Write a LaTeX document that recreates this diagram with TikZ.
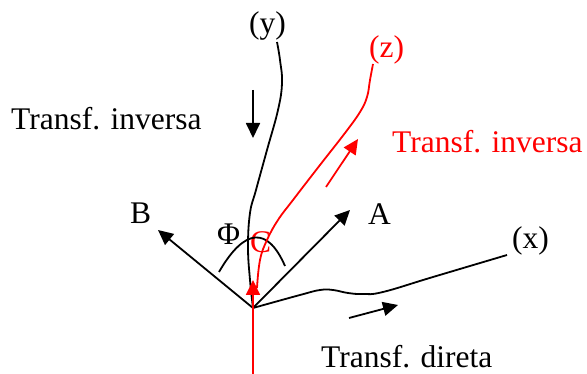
\documentclass[tikz,border=0pt]{standalone}
\usepackage{fontspec}
\setmainfont{Liberation Serif}
\usetikzlibrary{arrows.meta}
\begin{document}
\begin{tikzpicture}[x=1pt,y=-1pt,
  line/.style={line width=1.8pt},
  tip/.style={-{Triangle[length=15pt,width=14pt]}},
  lbl/.style={inner sep=0pt,anchor=base west,font=\fontsize{31.5}{36}\selectfont},
  red/.style={color=red}]
\useasboundingbox (0,0) rectangle (587,374);
\coordinate (O) at (253,308);
\coordinate (Rbot) at (253,374);
\coordinate (Rtip) at (253,280);
\coordinate (Btip) at (158,230);
\coordinate (Atip) at (350,210);
\coordinate (Yend) at (277,42);
\coordinate (Zend) at (373,64);
\coordinate (Xend) at (507,255);
\coordinate (dA) at (253,90);
\coordinate (dB) at (253,138);
\coordinate (uA) at (326,187);
\coordinate (uB) at (358,139);
\coordinate (rA) at (349,318);
\coordinate (rB) at (398,305);
\coordinate (arcA) at (219,272);
\coordinate (arcB) at (285,266);
% labels
\node[lbl] (ti) at (11,130) {Transf. inversa};
\node[lbl,red] (tir) at (392,153) {Transf. inversa};
\node[lbl] (td) at (321,368) {Transf. direta};
\node[lbl] (ly) at (249,34) {(y)};
\node[lbl,red] (lz) at (369,58) {(z)};
\node[lbl] (lx) at (512,249) {(x)};
\node[lbl] (lB) at (130,224) {B};
\node[lbl] (lA) at (368,225) {A};
\node[lbl] (lPhi) at (217,245) {Φ};
\node[lbl,red] (lC) at (250,253) {C};
% axes
\draw[line,tip] (O) -- (Btip);
\draw[line,tip] (O) -- (Atip);
\draw[line] plot[smooth,tension=0.7] coordinates {(O) (250,280) (248,247) (250,213) (256,190) (267,150) (278,110) (282,83) (280,60) (Yend)};
\draw[line] plot[smooth,tension=0.7] coordinates {(O) (300,295) (320,290) (333,290) (348,293) (363,294) (383,292) (433,277) (Xend)};
\draw[line] (arcA) .. controls (245,227) and (268,227) .. (arcB);
\draw[line,red,tip] (Rbot) -- (Rtip);
\draw[line,red] plot[smooth,tension=0.7] coordinates {(257,288) (260,260) (267,240) (278,220) (293,200) (320,165) (345,133) (360,112) (367,97) (370,80) (Zend)};
% arrows
\draw[line,tip] (dA) -- (dB);
\draw[line,red,tip] (uA) -- (uB);
\draw[line,tip] (rA) -- (rB);
\end{tikzpicture}
\end{document}
